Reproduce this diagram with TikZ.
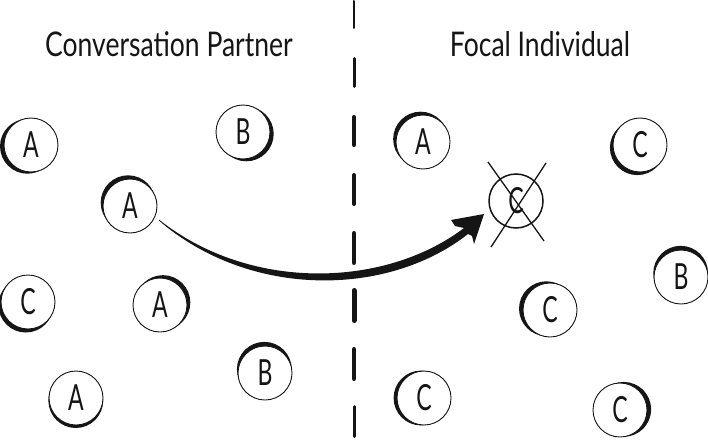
\documentclass[tikz,border=0pt]{standalone}
\usepackage{fontspec}
\newfontfamily\hand[FakeStretch=0.78]{Lato}
\newfontfamily\handl[FakeStretch=0.64]{Lato}
\usetikzlibrary{calc}
\definecolor{ink}{HTML}{151515}
\tikzset{
  ring/.style={circle, draw=ink, line width=0.9pt, minimum size=54pt, inner sep=0pt,
    font=\handl\fontsize{36}{36}\selectfont, text=ink},
  title/.style={font=\hand\fontsize{34}{34}\selectfont, text=ink},
  crossline/.style={draw=ink, line width=1.3pt},
  arrowfill/.style={fill=ink},
  divider/.style={draw=ink, line cap=round}
}
\newcommand\myring[6]{%
  \fill[ink] ($(#2,#3)+(#5:#6pt)$) circle[radius=27.4pt];
  \fill[white] (#2,#3) circle[radius=27pt];
  \node[ring] (#1) at (#2,#3) {#4};
}
\begin{document}
\begin{tikzpicture}[x=1pt,y=-1pt]
\fill[white] (0,0) rectangle (708,441);
\useasboundingbox (0,0) rectangle (708,441);

\node[title] (tl) at (169,44) {Conversation Partner};
\node[title] (tr) at (540,44) {Focal Individual};

% left side
\myring{a1}{31}{145}{A}{200}{3.8}
\myring{b1}{243}{132}{B}{-30}{3.8}
\myring{a2}{130}{206}{A}{120}{3.8}
\myring{c1}{28}{302}{C}{235}{3.8}
\myring{a3}{160}{305}{A}{40}{3.8}
\myring{a4}{76}{398}{A}{265}{2.6}
\myring{b2}{265}{373}{B}{100}{3.8}
% right side
\myring{a5}{423}{142}{A}{130}{3.8}
\myring{c2}{640}{145}{C}{225}{3.8}
\myring{b3}{681}{277}{B}{95}{3.8}
\myring{c3}{550}{310}{C}{160}{3.8}
\myring{c4}{424}{398}{C}{180}{3.0}
\myring{c5}{620}{410}{C}{10}{3.8}
\fill[white] (516,201) circle[radius=27pt];
\node[ring, line width=1.5pt] (xc) at (516,201) {C};

% divider
\foreach \a/\b/\w in {0/29/2,57/88/3,115/147/3.5,173/206/4,231/265/4.6,288/323/5,347/381/4.5,405/438/3}{
  \draw[divider, line width=\w pt] (354,\a+\w/2) -- (354,\b-\w/2);
}

% arrow
\coordinate (s1) at ($(a2)+(29,13.6)$);
\coordinate (s2) at ($(a2)+(29,14.6)$);
\coordinate (tip) at ($(xc)+(-32,13)$);
\fill[arrowfill] (s1) .. controls (250,292) and (385,288) .. (464,228)
  -- (455,226) -- (451,220) -- (tip) -- (474,244) -- (472,236) -- (468,234)
  .. controls (388,297) and (250,299) .. (s2) -- cycle;

% cross
\draw[crossline] ($(xc)+(-28,-39)$) -- ($(xc)+(28,40)$);
\draw[crossline] ($(xc)+(30,-38)$) -- ($(xc)+(-25,46)$);
\end{tikzpicture}
\end{document}
